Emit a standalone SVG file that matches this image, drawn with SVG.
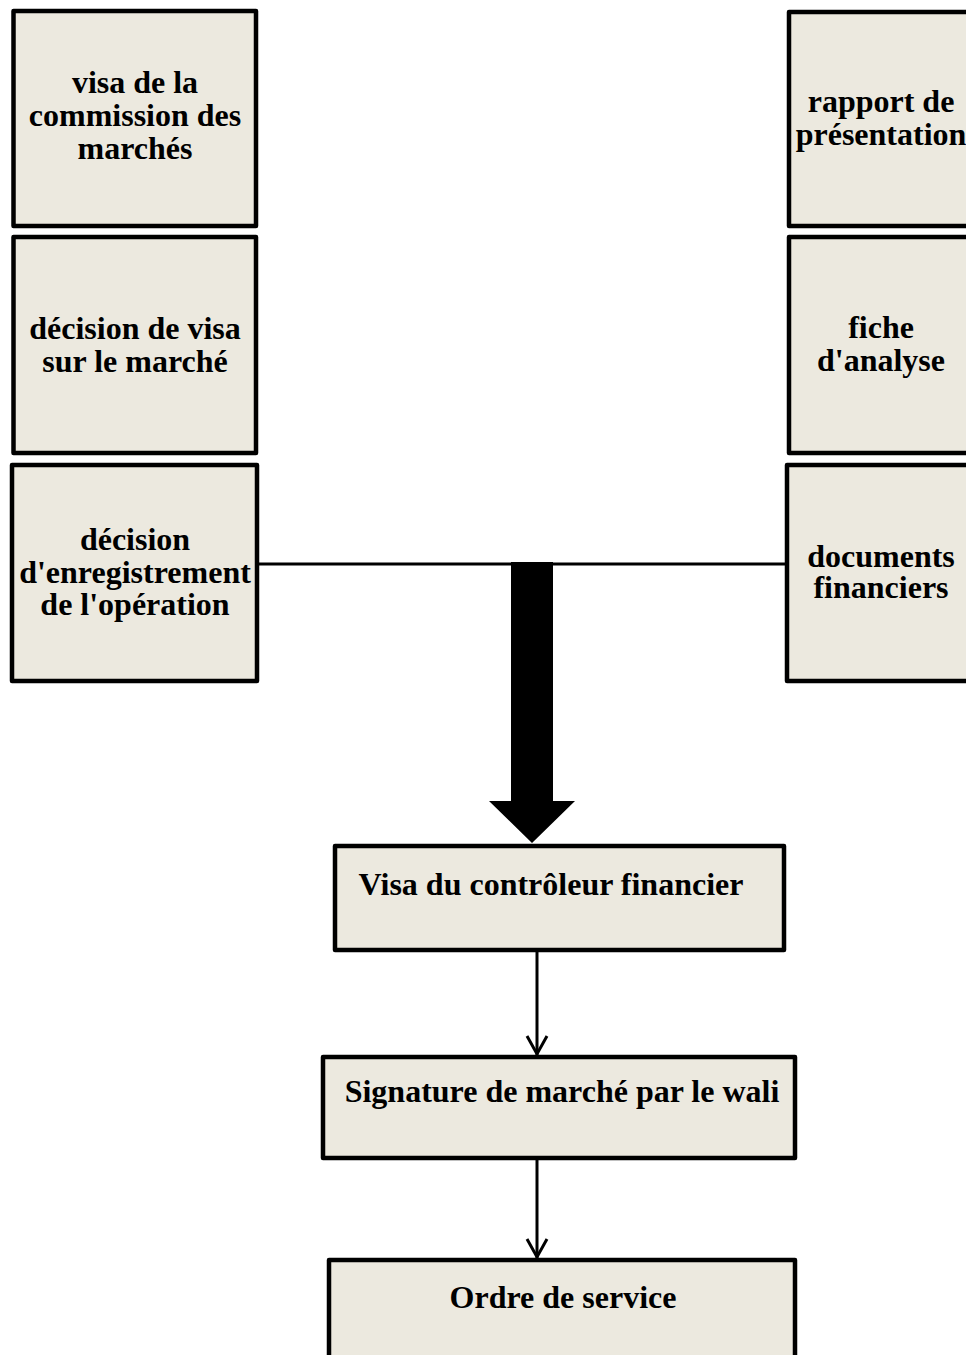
<svg xmlns="http://www.w3.org/2000/svg" width="966" height="1355" viewBox="0 0 966 1355">
<style>
.box{fill:#ece9df;stroke:#000;stroke-width:4.5;stroke-linejoin:round}
.t{font-family:"Liberation Serif","Times New Roman",serif;font-weight:bold;font-size:32px;fill:#000;text-anchor:middle}
.ln{stroke:#000;stroke-width:3;fill:none}
</style>
<rect width="966" height="1355" fill="#fff"/>
<g id="connectors">
<line class="ln" x1="257" y1="564" x2="788" y2="564"/>
<polygon points="511,562 553,562 553,801 575,801 532,843 489,801 511,801" fill="#000"/>
<line class="ln" x1="537" y1="951" x2="537" y2="1055"/>
<polyline class="ln" points="527,1036 537,1054 547,1036"/>
<line class="ln" x1="537" y1="1158" x2="537" y2="1259"/>
<polyline class="ln" points="527,1239 537,1257 547,1239"/>
</g>
<g id="n1"><rect class="box" x="13.5" y="11" width="242.5" height="215"/>
<text class="t" x="135" y="93">visa de la</text><text class="t" x="135" y="126">commission des</text><text class="t" x="135" y="159">marchés</text></g>
<g id="n2"><rect class="box" x="13.5" y="237" width="242.5" height="216"/>
<text class="t" x="135" y="339">décision de visa</text><text class="t" x="135" y="372">sur le marché</text></g>
<g id="n3"><rect class="box" x="12" y="465" width="245" height="216"/>
<text class="t" x="135" y="550">décision</text><text class="t" x="135" y="583">d'enregistrement</text><text class="t" x="135" y="615">de l'opération</text></g>
<g id="n4"><rect class="box" x="789" y="12" width="190" height="214"/>
<text class="t" x="881" y="112">rapport de</text><text class="t" x="881" y="145">présentation</text></g>
<g id="n5"><rect class="box" x="789" y="237" width="190" height="216"/>
<text class="t" x="881" y="338">fiche</text><text class="t" x="881" y="371">d'analyse</text></g>
<g id="n6"><rect class="box" x="787" y="465" width="192" height="216"/>
<text class="t" x="881" y="567">documents</text><text class="t" x="881" y="598">financiers</text></g>
<g id="n7"><rect class="box" x="335" y="846" width="449" height="104"/>
<text class="t" x="551" y="895">Visa du contrôleur financier</text></g>
<g id="n8"><rect class="box" x="323" y="1057" width="472" height="101"/>
<text class="t" x="562" y="1102">Signature de marché par le wali</text></g>
<g id="n9"><rect class="box" x="329" y="1260" width="466" height="120"/>
<text class="t" x="563" y="1308">Ordre de service</text></g>
</svg>
